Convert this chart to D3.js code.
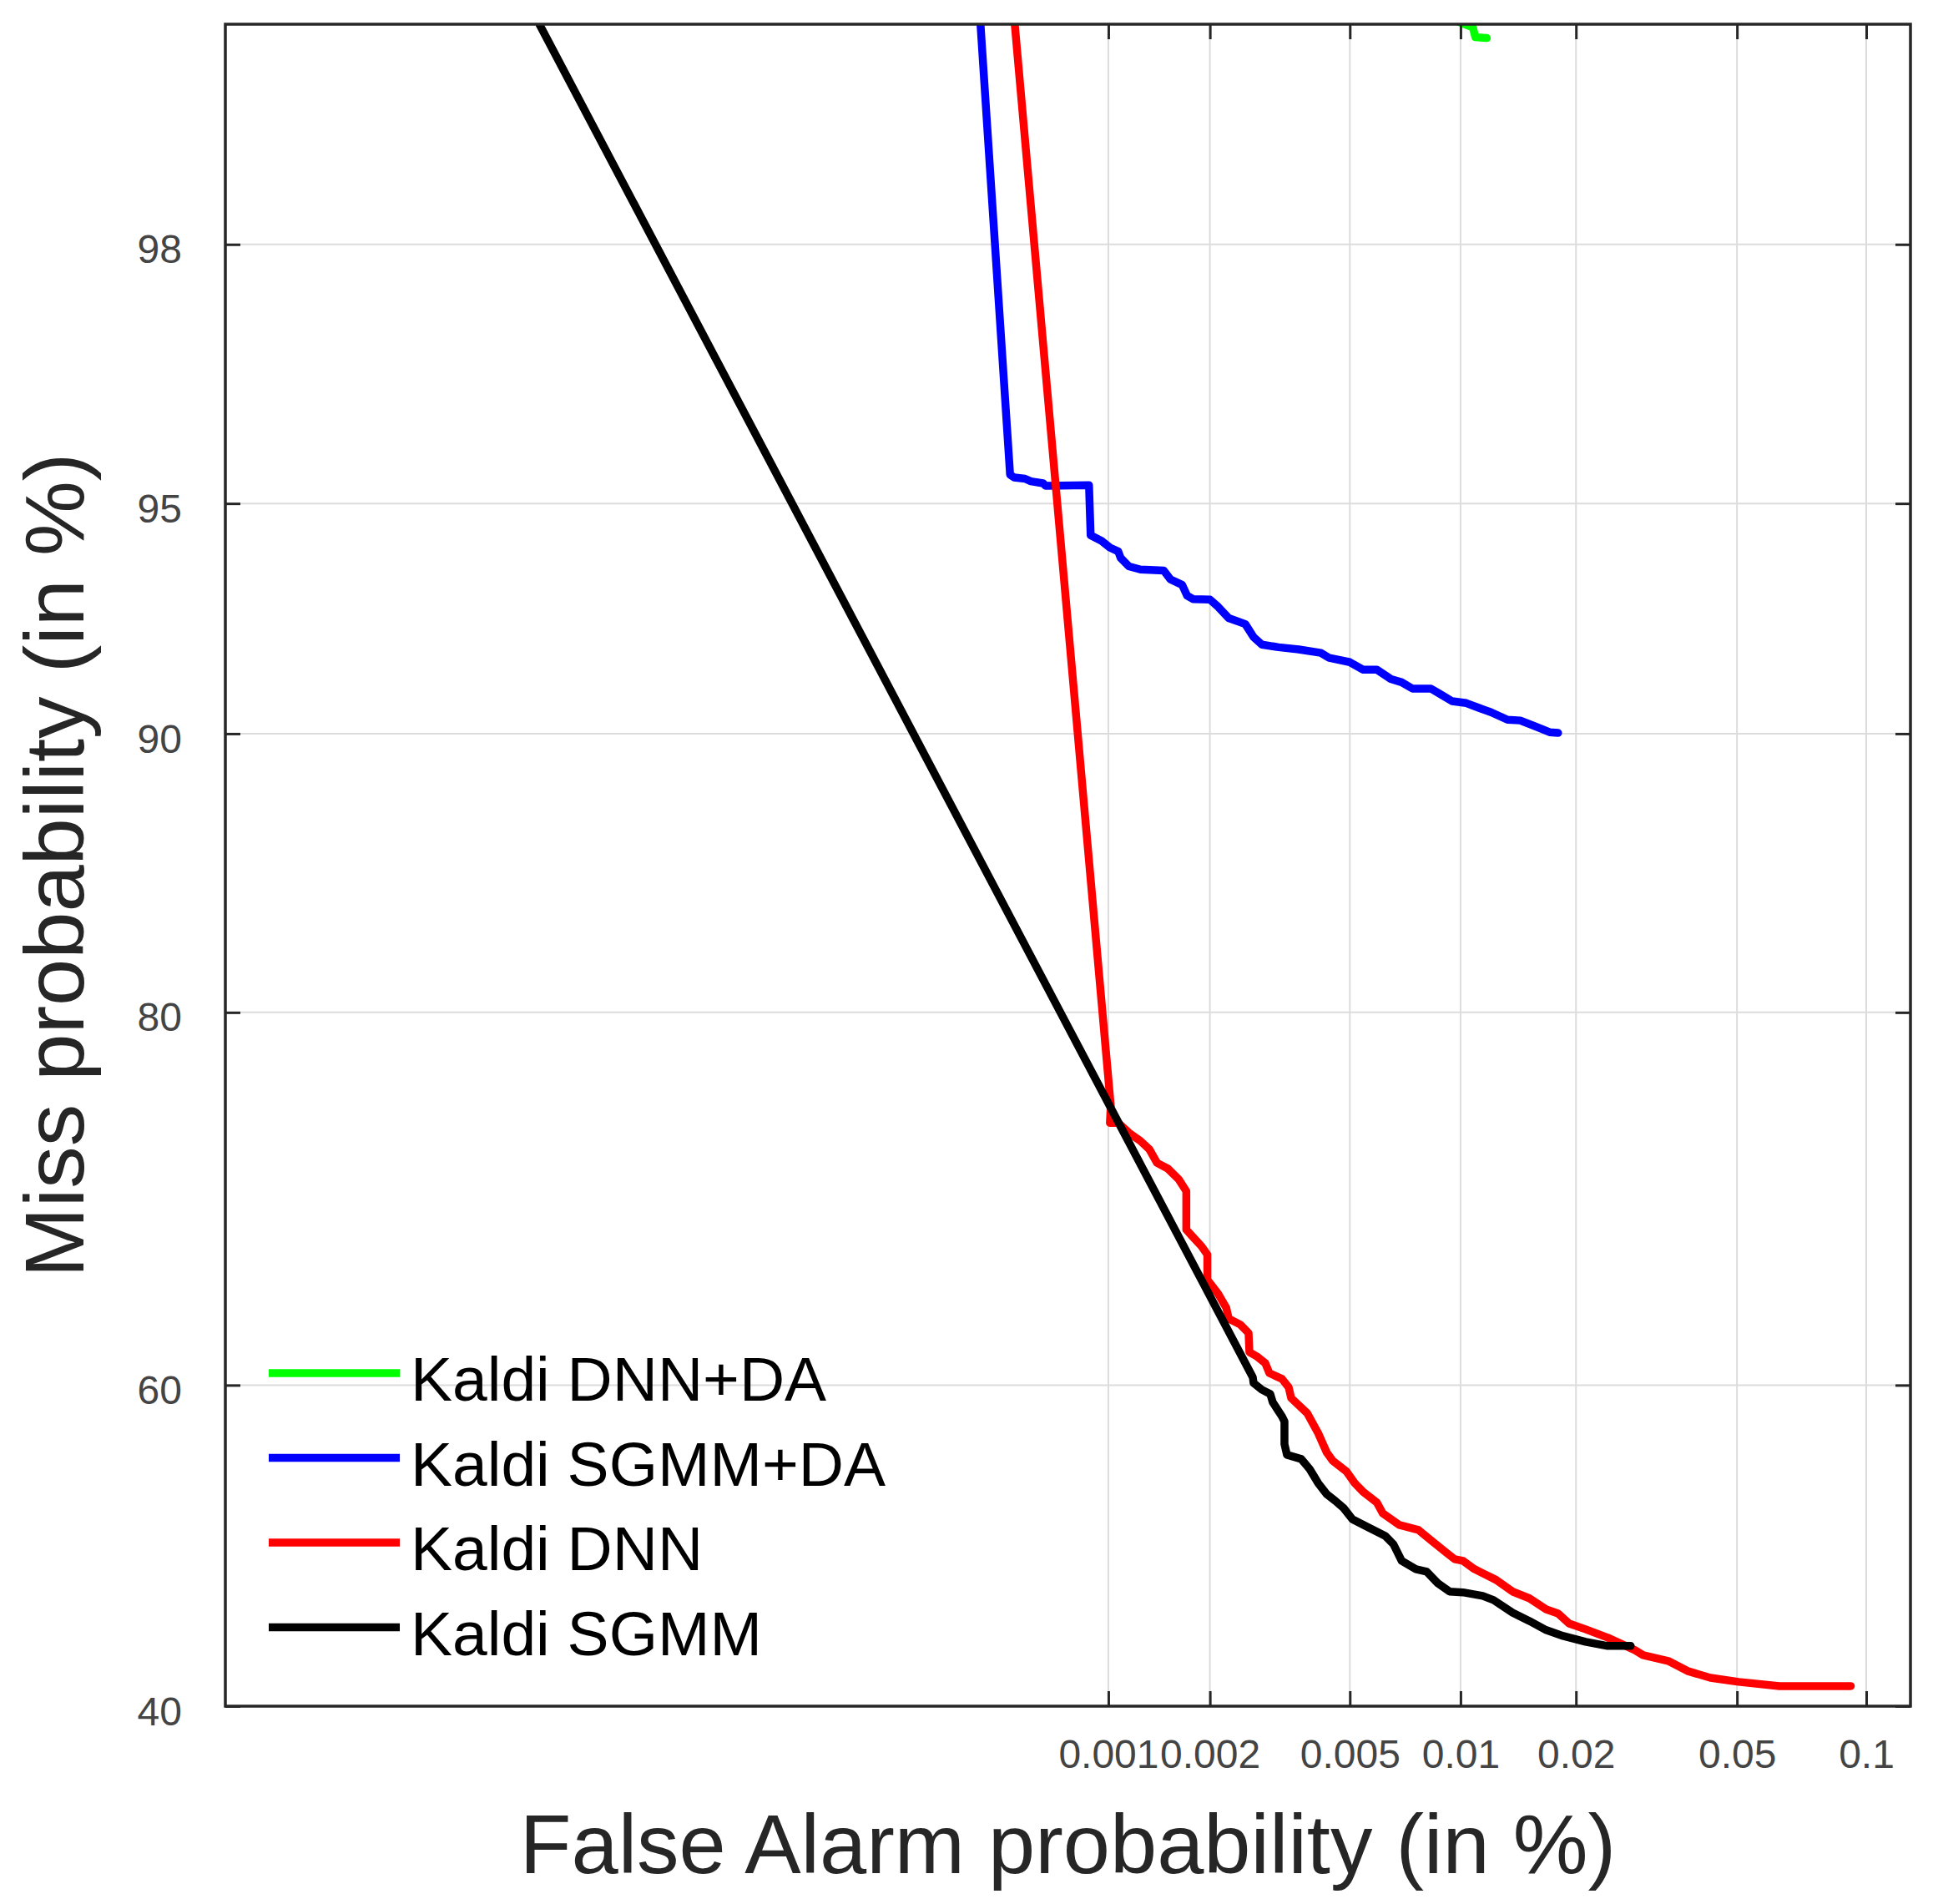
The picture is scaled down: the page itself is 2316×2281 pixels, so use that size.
<!DOCTYPE html>
<html><head><meta charset="utf-8">
<script src="https://cdn.jsdelivr.net/npm/d3@7"></script>
<style>body{margin:0;background:#fff}</style>
</head><body>
<svg id="chart" width="2316" height="2281"></svg>
<script>
// ---- data (percent values) ----
const xTicks = [0.001, 0.002, 0.005, 0.01, 0.02, 0.05, 0.1];
const xTickLabels = ["0.001", "0.002", "0.005", "0.01", "0.02", "0.05", "0.1"];
const yTicks = [40, 60, 80, 90, 95, 98];
const yTickLabels = ["40", "60", "80", "90", "95", "98"];
const xLimits = [8.83e-7, 0.1257];
const yLimits = [40, 99.183];

const seriesNames = ["Kaldi DNN+DA", "Kaldi SGMM+DA", "Kaldi DNN", "Kaldi SGMM"];
const seriesColors = ["#00ff00", "#0000ff", "#ff0000", "#000000"];

const dnnDA = [[0.00949, 99.2], [0.01078, 99.172], [0.01095, 99.136], [0.01174, 99.133]];

const sgmmDA = [
  [0.000404, 99.183], [0.000500, 95.45], [0.000515, 95.41], [0.000556, 95.39], [0.000580, 95.35],
  [0.000633, 95.32], [0.000644, 95.28], [0.000874, 95.29], [0.000884, 94.46], [0.000954, 94.36],
  [0.001011, 94.24], [0.001071, 94.17], [0.001089, 94.05], [0.001153, 93.89], [0.001248, 93.83],
  [0.001463, 93.81], [0.001531, 93.64], [0.001658, 93.53], [0.001716, 93.31], [0.001785, 93.24],
  [0.002000, 93.23], [0.002113, 93.08], [0.002268, 92.84], [0.002532, 92.71], [0.002675, 92.42],
  [0.002826, 92.25], [0.003153, 92.19], [0.003597, 92.14], [0.004149, 92.06], [0.004383, 91.94],
  [0.005000, 91.84], [0.005434, 91.66], [0.005937, 91.66], [0.006488, 91.43], [0.006941, 91.35],
  [0.007430, 91.19], [0.008334, 91.19], [0.008869, 91.04], [0.009493, 90.87], [0.010358, 90.82],
  [0.01122, 90.69], [0.01204, 90.58], [0.01331, 90.38], [0.01436, 90.36], [0.01571, 90.20],
  [0.01712, 90.04], [0.01800, 90.02]
];

const dnn = [
  [0.000517, 99.183], [0.001017, 75.61], [0.001011, 74.77], [0.001071, 74.77], [0.001153, 74.27],
  [0.001248, 73.85], [0.001328, 73.41], [0.001398, 72.71], [0.001505, 72.41], [0.001621, 71.84],
  [0.001706, 71.21], [0.001706, 69.10], [0.001785, 68.69], [0.001889, 68.18], [0.001966, 67.70],
  [0.001966, 66.27], [0.002113, 65.45], [0.002232, 64.62], [0.002268, 63.99], [0.002450, 63.64],
  [0.002588, 63.14], [0.002602, 62.00], [0.002734, 61.74], [0.002889, 61.34], [0.002968, 60.73],
  [0.003224, 60.38], [0.003368, 59.87], [0.003424, 59.21], [0.003800, 58.28], [0.004080, 57.04],
  [0.004311, 55.85], [0.004481, 55.33], [0.004892, 54.66], [0.005158, 53.93], [0.005434, 53.40],
  [0.005937, 52.72], [0.006159, 52.04], [0.006838, 51.30], [0.007706, 50.99], [0.008421, 50.25],
  [0.009152, 49.57], [0.009644, 49.15], [0.01015, 49.04], [0.01089, 48.52], [0.01241, 47.85],
  [0.01372, 47.11], [0.01517, 46.69], [0.01677, 46.00], [0.01800, 45.74], [0.01921, 45.11],
  [0.02116, 44.75], [0.02406, 44.23], [0.02816, 43.45], [0.02952, 43.14], [0.03404, 42.78],
  [0.03797, 42.16], [0.04315, 41.74], [0.05045, 41.49], [0.06305, 41.23], [0.07889, 41.23],
  [0.09226, 41.23]
];

const sgmm = [
  [1.325e-5, 99.183], [0.002661, 60.48], [0.002675, 60.13], [0.002826, 59.72], [0.002985, 59.46],
  [0.003035, 58.95], [0.003224, 58.08], [0.003277, 57.77], [0.003277, 56.37], [0.003331, 55.70],
  [0.003655, 55.44], [0.003862, 54.81], [0.004080, 53.93], [0.004311, 53.24], [0.004554, 52.82],
  [0.004812, 52.35], [0.005079, 51.67], [0.005636, 51.14], [0.006256, 50.62], [0.006591, 50.09],
  [0.006941, 49.04], [0.007588, 48.52], [0.008119, 48.36], [0.008688, 47.64], [0.009346, 47.11],
  [0.01015, 47.06], [0.01145, 46.84], [0.01223, 46.58], [0.01372, 45.79], [0.01517, 45.27],
  [0.01677, 44.70], [0.01855, 44.33], [0.02116, 43.97], [0.02406, 43.71], [0.02749, 43.71]
];

const seriesData = [dnnDA, sgmmDA, dnn, sgmm];

// ---- probit (inverse normal CDF, Acklam) ----
function probit(p) {
  const a = [-3.969683028665376e+01, 2.209460984245205e+02, -2.759285104469687e+02, 1.383577518672690e+02, -3.066479806614716e+01, 2.506628277459239e+00];
  const b = [-5.447609879822406e+01, 1.615858368580409e+02, -1.556989798598866e+02, 6.680131188771972e+01, -1.328068155288572e+01];
  const c = [-7.784894002430293e-03, -3.223964580411365e-01, -2.400758277161838e+00, -2.549732539343734e+00, 4.374664141464968e+00, 2.938163982698783e+00];
  const d = [7.784695709041462e-03, 3.224671290700398e-01, 2.445134137142996e+00, 3.754408661907416e+00];
  const pl = 0.02425, ph = 1 - pl;
  let q, r;
  if (p < pl) {
    q = Math.sqrt(-2 * Math.log(p));
    return (((((c[0]*q+c[1])*q+c[2])*q+c[3])*q+c[4])*q+c[5]) / ((((d[0]*q+d[1])*q+d[2])*q+d[3])*q+1);
  }
  if (p <= ph) {
    q = p - 0.5; r = q * q;
    return (((((a[0]*r+a[1])*r+a[2])*r+a[3])*r+a[4])*r+a[5])*q / (((((b[0]*r+b[1])*r+b[2])*r+b[3])*r+b[4])*r+1);
  }
  q = Math.sqrt(-2 * Math.log(1 - p));
  return -(((((c[0]*q+c[1])*q+c[2])*q+c[3])*q+c[4])*q+c[5]) / ((((d[0]*q+d[1])*q+d[2])*q+d[3])*q+1);
}
const pr = v => probit(v / 100);

// ---- layout ----
const L = 270, R = 2289, T = 29, B = 2044;
const FONT = "'Liberation Sans', Arial, Helvetica, sans-serif";

const xs = d3.scaleLinear().domain([pr(xLimits[0]), pr(xLimits[1])]).range([L, R]);
const ys = d3.scaleLinear().domain([pr(yLimits[0]), pr(yLimits[1])]).range([B, T]);
const X = v => xs(pr(v));
const Y = v => ys(pr(v));

const svg = d3.select("#chart");
svg.append("rect").attr("width", 2316).attr("height", 2281).attr("fill", "#fff");

// grid
const grid = svg.append("g").attr("stroke", "#dcdcdc").attr("stroke-width", 2);
grid.selectAll("line.vx").data(xTicks).join("line")
  .attr("x1", d => X(d)).attr("x2", d => X(d)).attr("y1", T).attr("y2", B);
grid.selectAll("line.hy").data(yTicks).join("line")
  .attr("y1", d => Y(d)).attr("y2", d => Y(d)).attr("x1", L).attr("x2", R);

// curves
svg.append("clipPath").attr("id", "clip").append("rect")
  .attr("x", L).attr("y", T).attr("width", R - L).attr("height", B - T);
const line = d3.line().x(d => X(d[0])).y(d => Y(d[1]));
const curves = svg.append("g").attr("clip-path", "url(#clip)");
seriesData.forEach((s, i) => {
  curves.append("path").datum(s).attr("d", line)
    .attr("fill", "none").attr("stroke", seriesColors[i])
    .attr("stroke-width", 9.5).attr("stroke-linejoin", "round").attr("stroke-linecap", "round");
});

// axes
const xv = xTicks.map(pr), yv = yTicks.map(pr);
const axB = svg.append("g").attr("transform", `translate(0,${B})`)
  .call(d3.axisBottom(xs).tickValues(xv).tickFormat((d, i) => xTickLabels[i]).tickSize(-18).tickPadding(40));
const axT = svg.append("g").attr("transform", `translate(0,${T})`)
  .call(d3.axisTop(xs).tickValues(xv).tickFormat("").tickSize(-18));
const axL = svg.append("g").attr("transform", `translate(${L},0)`)
  .call(d3.axisLeft(ys).tickValues(yv).tickFormat((d, i) => yTickLabels[i]).tickSize(-18).tickPadding(52));
const axR = svg.append("g").attr("transform", `translate(${R},0)`)
  .call(d3.axisRight(ys).tickValues(yv).tickFormat("").tickSize(-18));
[axB, axT, axL, axR].forEach(g => {
  g.select(".domain").remove();
  g.selectAll(".tick line").attr("stroke", "#262626").attr("stroke-width", 3);
  g.selectAll(".tick text").attr("fill", "#444").attr("font-family", FONT).attr("font-size", 48);
});
axL.selectAll(".tick text").attr("dy", "0.46em");

svg.append("rect").attr("x", L).attr("y", T).attr("width", R - L).attr("height", B - T)
  .attr("fill", "none").attr("stroke", "#262626").attr("stroke-width", 3.5);

// axis titles
svg.append("text").attr("x", (L + R) / 2).attr("y", 2244).attr("text-anchor", "middle")
  .attr("font-family", FONT).attr("font-size", 101).attr("fill", "#262626")
  .text("False Alarm probability (in %)");
svg.append("text").attr("transform", `translate(100,${(T + B) / 2}) rotate(-90)`).attr("text-anchor", "middle")
  .attr("font-family", FONT).attr("font-size", 101).attr("fill", "#262626")
  .text("Miss probability (in %)");

// legend
const leg = svg.append("g");
seriesNames.forEach((name, i) => {
  const y = 1645 + i * 101.5;
  leg.append("line").attr("x1", 322).attr("x2", 479).attr("y1", y).attr("y2", y)
    .attr("stroke", seriesColors[i]).attr("stroke-width", 9.5);
  leg.append("text").attr("x", 492).attr("y", y + 33)
    .attr("font-family", FONT).attr("font-size", 75).attr("fill", "#000").text(name);
});
</script>
</body></html>
